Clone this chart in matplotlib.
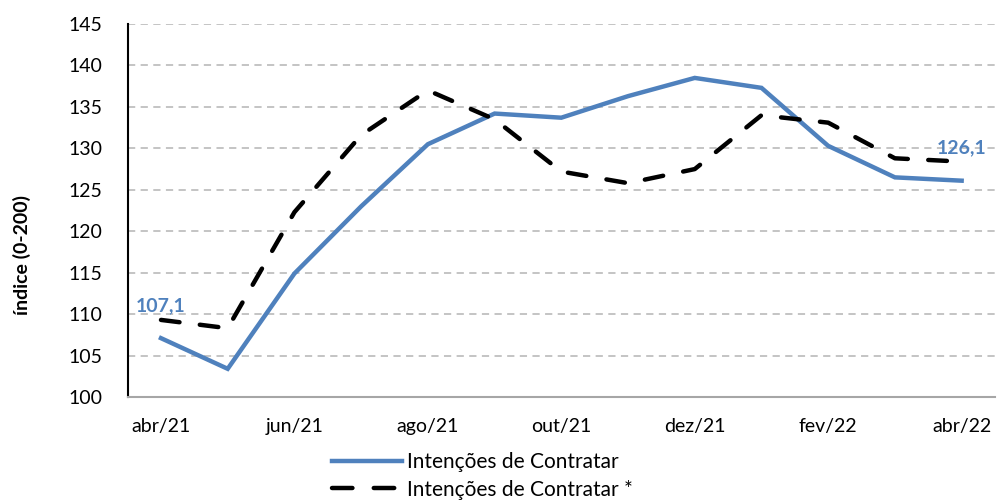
import matplotlib
matplotlib.use("Agg")
import matplotlib.pyplot as plt
from matplotlib.lines import Line2D

months = ["abr/21", "mai/21", "jun/21", "jul/21", "ago/21", "set/21", "out/21",
          "nov/21", "dez/21", "jan/22", "fev/22", "mar/22", "abr/22"]
intencoes = [107.1, 103.4, 114.9, 123.0, 130.5, 134.2, 133.7, 136.3, 138.5,
             137.3, 130.3, 126.5, 126.1]
intencoes_aj = [109.3, 108.3, 122.3, 131.6, 137.0, 133.5, 127.2, 125.8, 127.5,
                134.0, 133.1, 128.8, 128.4]
yticks = list(range(100, 150, 5))

blue = "#4F81BD"
plt.rcParams['font.family'] = ['Lato', 'DejaVu Sans']

fig = plt.figure(figsize=(9.97, 5.01), dpi=100)
ax = fig.add_axes([0.128, 0.2076, 0.87, 0.7444])

x = list(range(len(months)))
ax.plot(x, intencoes, color=blue, lw=3.2, solid_joinstyle='miter', zorder=3)
ax.plot(x, intencoes_aj, color='black', lw=3.2, dashes=(4.2, 4.6),
        dash_capstyle='round', zorder=3)

ax.set_xlim(-0.5, len(months) - 0.5)
ax.set_ylim(100, 145)
ax.set_yticks(yticks)
ax.set_yticklabels([str(v) for v in yticks], fontsize=14)
ax.set_xticks(x[::2])
ax.set_xticklabels(months[::2], fontsize=14)
ax.tick_params(axis='x', length=0, pad=15)
ax.tick_params(axis='y', length=0, pad=18)

ax.grid(axis='y', color='#BFBFBF', linestyle=(0, (4, 3)), lw=1.3)
ax.set_axisbelow(True)
for s in ['top', 'right']:
    ax.spines[s].set_visible(False)
ax.spines['left'].set_color('black')
ax.spines['left'].set_linewidth(1.5)
ax.spines['bottom'].set_color('#A6A6A6')
ax.spines['bottom'].set_linewidth(1.5)

fig.text(0.022, 0.491, "índice (0-200)", rotation=90, ha='center', va='center',
         fontsize=14, fontweight='bold')

for i in (0, len(months) - 1):
    ax.annotate(f"{intencoes[i]:.1f}".replace('.', ','), (i, intencoes[i]),
                xytext=(0, 17.5), textcoords='offset points', ha='center',
                va='bottom', color=blue, fontsize=14, fontweight='bold')

handles = [Line2D([], [], color=blue, lw=3.2),
           Line2D([], [], color='black', lw=3.2, dashes=(4.6, 4.8),
                  dash_capstyle='round')]
fig.legend(handles, ["Intenções de Contratar", "Intenções de Contratar *"],
           loc='center left', bbox_to_anchor=(0.333, 0.05), ncol=1,
           frameon=False, fontsize=15, handlelength=3.35, handletextpad=0.25,
           labelspacing=0.36, borderaxespad=0, borderpad=0)

fig.savefig("out.png", dpi=100)
